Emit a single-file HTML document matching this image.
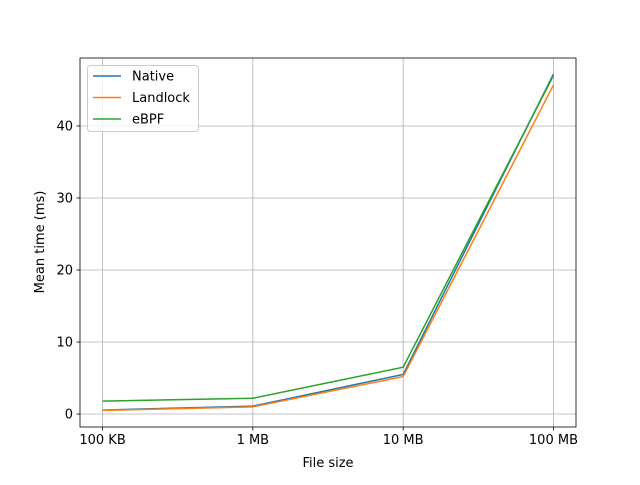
<!DOCTYPE html>
<html><head><meta charset="utf-8"><style>
body{margin:0;background:#fff}
svg text{font-family:"DejaVu Sans","Liberation Sans",sans-serif;font-size:13px;fill:#000}
</style></head><body>
<svg id="chart" width="640" height="480" xmlns="http://www.w3.org/2000/svg">
<rect width="640" height="480" fill="#fff"/>
<g id="grid"></g><g id="series"></g><g id="axes"></g>
<text x="328" y="467" text-anchor="middle">File size</text>
<text transform="translate(44,242) rotate(-90)" text-anchor="middle">Mean time (ms)</text>
<g>
<rect x="87.5" y="65.5" width="111" height="66" rx="3" fill="#fff" fill-opacity="0.8" stroke="#ccc"/>
<g id="legend-items"></g>
</g>
</svg>
<script>
const categories=["100 KB","1 MB","10 MB","100 MB"];
const seriesNames=["Native","Landlock","eBPF"];
const nativeVals=[0.55,1.1,5.5,47.2];
const landlockVals=[0.5,1.0,5.2,45.7];
const ebpfVals=[1.8,2.2,6.5,47.0];
const yTicks=[0,10,20,30,40];
const colors=["#1f77b4","#ff7f0e","#2ca02c"];
const L=80,R=576,T=58,B=427;
const xMin=-0.15,xMax=3.15,yMin=-1.8,yMax=49.44;
const X=i=>L+(i-xMin)/(xMax-xMin)*(R-L);
const Y=v=>B-(v-yMin)/(yMax-yMin)*(B-T);
const NS="http://www.w3.org/2000/svg";
function mk(t,a,p){const e=document.createElementNS(NS,t);for(const k in a)e.setAttribute(k,a[k]);p.appendChild(e);return e;}
const grid=document.getElementById('grid'),axes=document.getElementById('axes'),ser=document.getElementById('series');
categories.forEach((c,i)=>{const x=X(i);
const g=mk('line',{x1:x,x2:x,y1:T,y2:B,stroke:'#b0b0b0','stroke-width':0.8},grid);


mk('line',{x1:x,x2:x,y1:B,y2:B+3.5,stroke:'#000','stroke-width':0.8},axes);
const t=mk('text',{x:x,y:B+17,'text-anchor':'middle'},axes);t.textContent=c;

});
yTicks.forEach(v=>{const y=Y(v);
const g=mk('line',{x1:L,x2:R,y1:y,y2:y,stroke:'#b0b0b0','stroke-width':0.8},grid);


mk('line',{x1:L-3.5,x2:L,y1:y,y2:y,stroke:'#000','stroke-width':0.8},axes);
const t=mk('text',{x:L-7,y:y+4.5,'text-anchor':'end'},axes);t.textContent=v;

});
const fr=mk('rect',{x:L,y:T,width:R-L,height:B-T,fill:'none',stroke:'#000','stroke-width':0.8},axes);


[nativeVals,landlockVals,ebpfVals].forEach((vals,s)=>{
const p=mk('polyline',{points:vals.map((v,i)=>X(i)+','+Y(v)).join(' '),fill:'none',stroke:colors[s],'stroke-width':1.5},ser);

});
const li=document.getElementById('legend-items');
seriesNames.forEach((n,s)=>{const y=76+s*21.5;
const l=mk('line',{x1:93,x2:121,y1:y,y2:y,stroke:colors[s],'stroke-width':1.5},li);


const t=mk('text',{x:132,y:y+4.5},li);t.textContent=n;

});
</script>
</body></html>
